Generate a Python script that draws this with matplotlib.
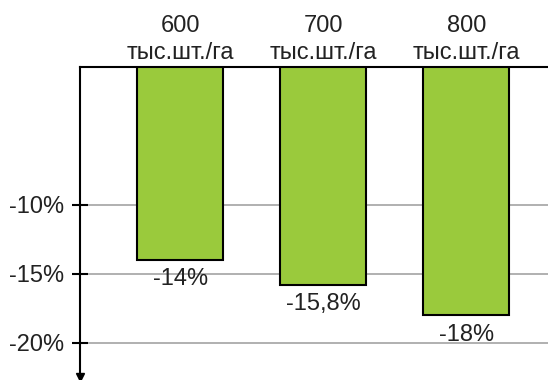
import matplotlib
matplotlib.use("Agg")
import matplotlib.pyplot as plt

plt.rcParams['font.family'] = ['Liberation Sans', 'DejaVu Sans']

# density groups and yield change
densities = ["600", "700", "800"]
unit = "тыс.шт./га"
changes = [-14.0, -15.8, -18.0]
change_labels = ["-14%", "-15,8%", "-18%"]
ytick_vals = [-10, -15, -20]
ytick_labels = ["-10%", "-15%", "-20%"]

fig = plt.figure(figsize=(5.48, 3.80), dpi=100)
ax = fig.add_axes([80 / 548, 0.0, 1 - 80 / 548, 1 - 67 / 380])

x = list(range(len(densities)))
ax.bar(x, changes, width=0.6, color="#9ACA3C", edgecolor="black", linewidth=1.5, zorder=3)

for xi, v, lab in zip(x, changes, change_labels):
    ax.annotate(lab, (xi, v), xytext=(0, -6), textcoords="offset points",
                ha="center", va="top", fontsize=17, color="#222222", zorder=4)

ax.set_xlim(-0.7, 2.57)
ax.set_ylim(-22.7, 0)

ax.set_yticks(ytick_vals)
ax.set_yticklabels(ytick_labels, fontsize=17, color="#222222")
ax.tick_params(axis="y", direction="inout", length=11, width=1.5, pad=6)
ax.yaxis.grid(True, color="#AAAAAA", linewidth=1.3, zorder=0)

ax.xaxis.tick_top()
ax.set_xticks(x)
ax.set_xticklabels([f"{d}\n{unit}" for d in densities], fontsize=17,
                   color="#222222", linespacing=1.3)
ax.tick_params(axis="x", length=0, pad=2)

for side in ("right", "bottom"):
    ax.spines[side].set_visible(False)
ax.spines["top"].set_linewidth(1.5)
ax.spines["left"].set_linewidth(1.5)

# arrow head at the lower end of the value axis
ax.plot([-0.7], [-22.5], marker="v", color="black", markersize=6,
        clip_on=False, zorder=5)

fig.savefig("out.png", dpi=100)
